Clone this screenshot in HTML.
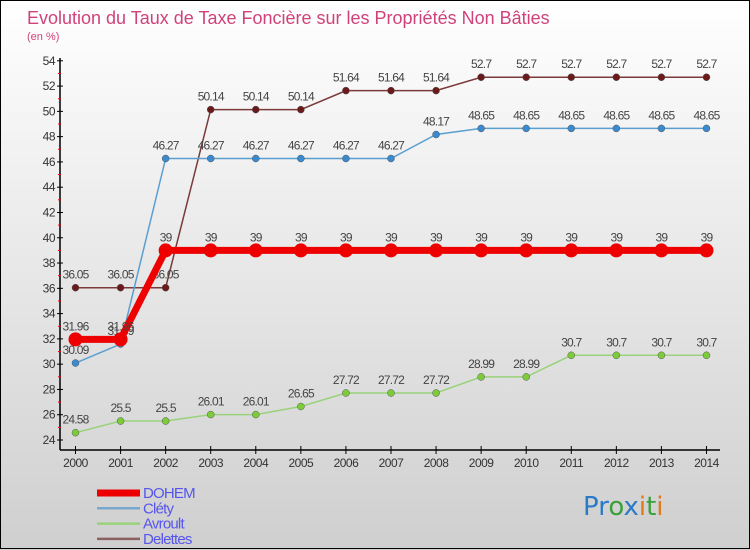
<!DOCTYPE html>
<html><head><meta charset="utf-8"><style>
body{margin:0;width:750px;height:550px;overflow:hidden;font-family:"Liberation Sans",sans-serif}
#c{position:absolute;left:0;top:0;width:750px;height:550px;background:linear-gradient(#ffffff,#cfcfcf);}
</style></head><body>
<div id="c">
<svg id="s" width="750" height="550" style="position:absolute;left:0;top:0"></svg>
</div>
<script>
const years=[2000,2001,2002,2003,2004,2005,2006,2007,2008,2009,2010,2011,2012,2013,2014];
const dohem=[31.96,31.96,39,39,39,39,39,39,39,39,39,39,39,39,39];
const clety=[30.09,31.59,46.27,46.27,46.27,46.27,46.27,46.27,48.17,48.65,48.65,48.65,48.65,48.65,48.65];
const avroult=[24.58,25.5,25.5,26.01,26.01,26.65,27.72,27.72,27.72,28.99,28.99,30.7,30.7,30.7,30.7];
const delettes=[36.05,36.05,36.05,50.14,50.14,50.14,51.64,51.64,51.64,52.7,52.7,52.7,52.7,52.7,52.7];
const yTicks=[24,26,28,30,32,34,36,38,40,42,44,46,48,50,52,54];
const seriesNames=["DOHEM","Cléty","Avroult","Delettes"];
const NS="http://www.w3.org/2000/svg",svg=document.getElementById('s');
const X=i=>75.5+i*45.07, Y=v=>440-(v-24)*12.64;
function el(t,a,p){const e=document.createElementNS(NS,t);for(const k in a)e.setAttribute(k,a[k]);(p||svg).appendChild(e);return e;}
function txt(x,y,s,a){const e=el('text',Object.assign({x:x,y:y,'font-size':12,fill:'#444'},a||{}));e.textContent=s;return e;}
// border
let b=el('rect',{x:0.5,y:0.5,width:749,height:548,fill:'none',stroke:'#000'});

let t=txt(27,24,'Evolution du Taux de Taxe Foncière sur les Propriétés Non Bâties',{'font-size':18,fill:'#d0427a'});

t=txt(27,40,'(en %)',{'font-size':11,fill:'#d0427a'});

// axes
let ax=el('line',{x1:60,y1:58,x2:60,y2:450,stroke:'#000','stroke-width':1.5});

ax=el('line',{x1:60,y1:450,x2:720,y2:450,stroke:'#000','stroke-width':1.5});

yTicks.forEach((v,i)=>{
  el('line',{x1:57,y1:Y(v),x2:63,y2:Y(v),stroke:'#000'});
  if(i<yTicks.length-1) el('line',{x1:58,y1:Y(v+1),x2:61,y2:Y(v+1),stroke:'#e00'});
  let l=txt(55,Y(v)+4,String(v),{'text-anchor':'end','font-size':12,fill:'#333','letter-spacing':'-0.5'});
  
});
years.forEach((yr,i)=>{
  el('line',{x1:X(i),y1:446,x2:X(i),y2:454,stroke:'#000'});
  let l=txt(X(i),467,String(yr),{'text-anchor':'middle','font-size':12,fill:'#333','letter-spacing':'-0.5'});
  
});
function series(data,color,w,r,dot,name){
  const g=el('g',{});
  
  el('polyline',{points:data.map((v,i)=>X(i)+','+Y(v)).join(' '),fill:'none',stroke:color,'stroke-width':w},g);
  data.forEach((v,i)=>{
    const c=el('circle',{cx:X(i),cy:Y(v),r:r,fill:dot,stroke:w>3?'none':'#555','stroke-width':0.5},g);
    
    const l=txt(X(i),Y(v)-9,String(v),{'text-anchor':'middle','font-size':12,fill:'#444','letter-spacing':'-0.8'},g);
    
  });
}
series(delettes,'#7a3a3a',1.5,3.5,'#6a1a1a','delettes');
series(clety,'#5a9fd0',1.5,3.5,'#3a8ad0','clety');
series(avroult,'#99d27a',1.5,3.5,'#7ccc3a','avroult');
series(dohem,'#ee0000',7,7,'#ee0000','dohem');
// legend
const lc=['#ee0000','#7aa8cc','#99d27a','#8a6060'],lw=[7,2.5,2.5,2.5];
seriesNames.forEach((n,i)=>{
  const g=el('g',{});
  
  const y=493+i*15.3;
  el('line',{x1:97,y1:y,x2:140,y2:y,stroke:lc[i],'stroke-width':lw[i]},g);
  txt(143,y+5,n,{'font-size':15,fill:'#5555ee','letter-spacing':'-0.8'},g);
});
// logo
const lg=el('text',{x:583,y:515,'font-size':26,'font-family':'"DejaVu Sans",sans-serif'});

[['Pro','#2a7ac8'],['x','#2a7ac8'],['i','#e07a1a'],['t','#3aa03a'],['i','#e07a1a']].forEach(([s,c],k)=>{
  const sp=el('tspan',{fill:k==0?'#2a7ac8':c},lg);sp.textContent=s;
  if(k==0){sp.textContent='P';const a=el('tspan',{fill:'#2a7ac8'},lg);a.textContent='r';const o=el('tspan',{fill:'#3aa03a'},lg);o.textContent='o';}
});
</script>
</body></html>
